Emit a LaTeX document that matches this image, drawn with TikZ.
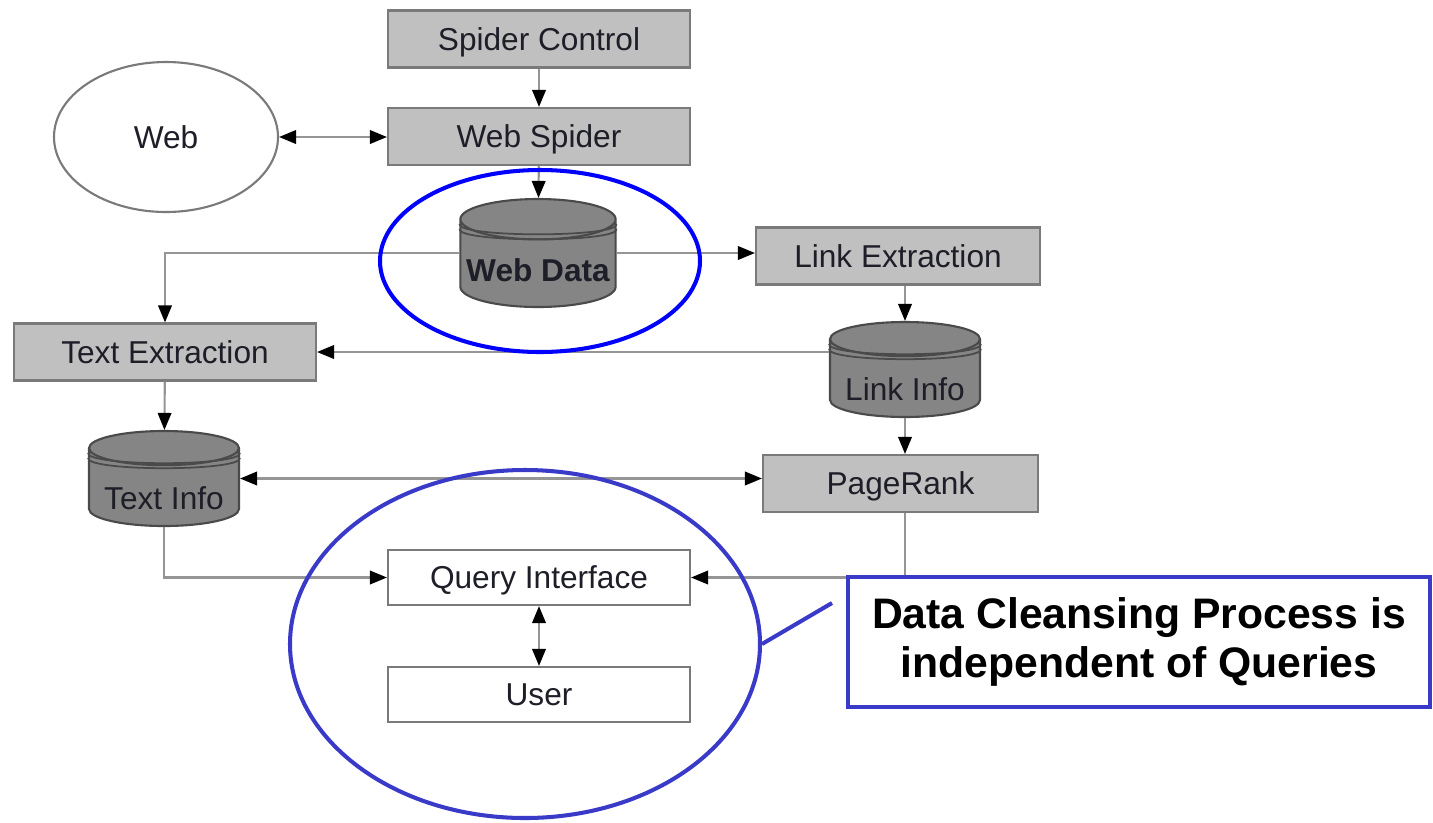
\documentclass[tikz,border=0pt]{standalone}
\usepackage{fontspec}
\setmainfont{Liberation Sans}
\usetikzlibrary{shapes.geometric,arrows.meta}
\definecolor{boxgray}{HTML}{C0C0C0}
\definecolor{edgegray}{HTML}{7A7A7A}
\definecolor{cylgray}{HTML}{858585}
\definecolor{cyledge}{HTML}{4A4A4A}
\definecolor{linegray}{HTML}{959595}
\definecolor{txt}{HTML}{1E1E28}
\definecolor{hlblue}{HTML}{0000FF}
\definecolor{noteblue}{HTML}{3A3AC8}
\begin{document}
\begin{tikzpicture}[blk/.tip = {Triangle[length=0.34cm,width=0.27cm,color=black]},
			box/.style = {rectangle,draw=edgegray,fill=boxgray,line width=1.2pt,minimum width=6.04cm,minimum height=1.14cm,text=txt,text height=12.9pt,text depth=0pt,font=\fontsize{18}{21}\selectfont},
			whitebox/.style = {box,fill=white,minimum height=1.1cm},
			store/.style = {cylinder,shape border rotate=90,shape aspect=0.26,anchor=shape center,draw=cyledge,fill=cylgray,line width=1.2pt,minimum width=3cm,minimum height=1.9cm,text=txt,font=\fontsize{18}{21}\selectfont},
			ring/.style = {draw=cyledge,line width=1pt},
			flow/.style = {draw=linegray,line width=1.2pt,-blk},
			twoway/.style = {draw=linegray,line width=1.2pt,blk-blk},
			hilite/.style = {ellipse,draw=hlblue,line width=2.3pt}]

\useasboundingbox (0,0) rectangle (28.66,-16.44);

\node[box] (sc) at (10.78,-0.78) {Spider Control};
\node[box] (ws) at (10.78,-2.73) {Web Spider};
\node[ellipse,draw=edgegray,line width=1.2pt,fill=white,minimum width=4.48cm,minimum height=3cm,text=txt,font=\fontsize{18}{21}\selectfont] (web) at (3.32,-2.74) {Web};

\node[store,minimum height=2.16cm] (wd) at (10.76,-5.06) {\raisebox{-0.28cm}[0pt][0pt]{\bfseries Web Data}};
\node[box,minimum width=5.68cm] (le) at (17.96,-5.12) {Link Extraction};
\node[store] (li) at (18.1,-7.39) {\raisebox{-0.38cm}[0pt][0pt]{Link Info}};
\node[box] (te) at (3.3,-7.04) {Text Extraction};
\node[store] (ti) at (3.28,-9.57) {\raisebox{-0.38cm}[0pt][0pt]{Text Info}};
\node[box,minimum width=5.5cm] (pr) at (18.01,-9.67) {PageRank};

\node[whitebox] (qi) at (10.78,-11.55) {Query Interface};
\node[whitebox] (us) at (10.78,-13.89) {User};

\draw[ring] ([yshift=-0.1cm]wd.before top) .. controls +(0,-0.27) and +(0,-0.27) .. ([yshift=-0.1cm]wd.after top);
\draw[ring] ([yshift=-0.2cm]wd.before top) .. controls +(0,-0.27) and +(0,-0.27) .. ([yshift=-0.2cm]wd.after top);
\draw[ring] ([yshift=-0.1cm]li.before top) .. controls +(0,-0.27) and +(0,-0.27) .. ([yshift=-0.1cm]li.after top);
\draw[ring] ([yshift=-0.2cm]li.before top) .. controls +(0,-0.27) and +(0,-0.27) .. ([yshift=-0.2cm]li.after top);
\draw[ring] ([yshift=-0.1cm]ti.before top) .. controls +(0,-0.27) and +(0,-0.27) .. ([yshift=-0.1cm]ti.after top);
\draw[ring] ([yshift=-0.2cm]ti.before top) .. controls +(0,-0.27) and +(0,-0.27) .. ([yshift=-0.2cm]ti.after top);

\draw[flow] (sc) -- (ws);
\draw[twoway] (web.east) -- (ws.west |- web.east);
\draw[flow] (ws) -- (wd);
\draw[flow] (wd.shape center -| wd.east) -- (le.west |- wd.shape center);
\draw[flow] (wd.shape center -| wd.west) -| (te.north);
\draw[flow] (li.north |- le.south) -- (li.north);
\draw[flow] (li.west |- te.east) -- (te.east);
\draw[flow] (te) -- (ti);
\draw[flow] (li.south) -- (li.south |- pr.north);
\draw[twoway] (ti.shape center -| ti.east) -- (pr.west |- ti.shape center);
\draw[flow] (ti.south) |- (qi.west);
\draw[flow] (li.south |- pr.south) |- (qi.east);
\draw[twoway] (qi) -- (us);

\node[hilite,minimum width=6.4cm,minimum height=3.64cm] (hl1) at (10.8,-5.22) {};
\node[hilite,draw=noteblue,minimum width=9.4cm,minimum height=6.96cm] (hl2) at (10.5,-12.88) {};

\node[draw=noteblue,line width=2.8pt,fill=white,minimum width=11.64cm,minimum height=2.6cm,align=center,font=\bfseries\fontsize{24.3}{27.5}\selectfont] (note) at (22.78,-12.84) {Data Cleansing Process is\\independent of Queries};
\coordinate (tail) at (16.64,-12.06);
\draw[noteblue,line width=2.3pt] (tail) -- (hl2.east);

\end{tikzpicture}
\end{document}
